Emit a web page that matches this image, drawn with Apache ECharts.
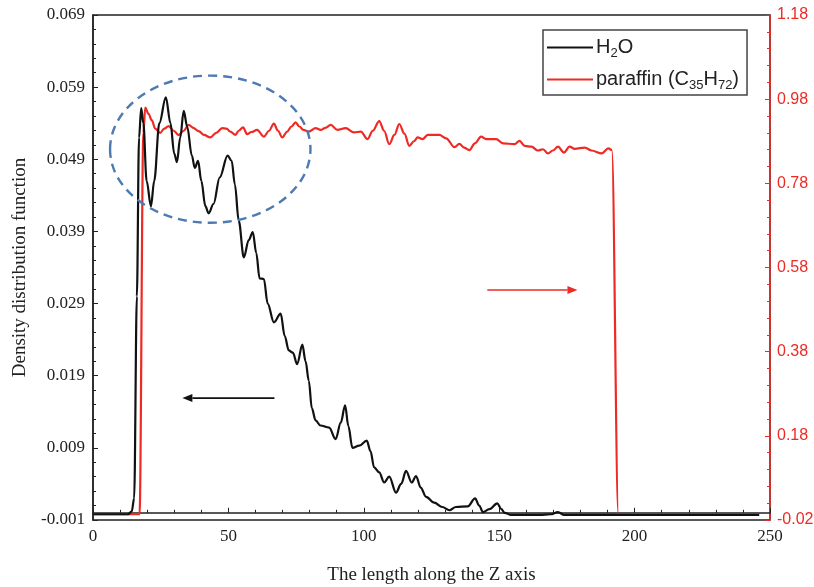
<!DOCTYPE html>
<html>
<head>
<meta charset="utf-8">
<script src="https://cdn.jsdelivr.net/npm/echarts@6/dist/echarts.min.js"></script>
<style>html,body{margin:0;padding:0;background:#fff}#c{width:814px;height:587px}</style>
</head>
<body>
<div id="c"></div>
<script>
// ---- data ----
const waterX = [0,13,14.3,15.2,16.2,17,17.8,18.6,19.8,21.4,22.6,24.5,26.9,28.6,30,31,32.2,33.5,34.8,36.5,37.6,38.8,40,41.5,42.7,44.5,46.8,49.7,51.2,52.4,53.8,55.7,57.5,59,60.3,61.5,63.1,64.5,66.8,69.3,70.8,72.3,73.8,75.4,77.3,78.5,79.7,80.8,82.2,84,87.2,89.6,91.5,93.1,94.3,95.8,98.3,101.1,102.5,103.8,105.7,107.5,109.4,111.9,113.8,115.6,117.7,119.3,121,123,126,129,131.6,134,138.4,141.1,142.6,144,146.4,149.3,150.8,152,154.4,165,169,171.7,174,246];
const waterY = [-0.0002,-0.0002,0.0002,0.002,0.03,0.052,0.0561,0.054,0.046,0.0425,0.046,0.054,0.0576,0.054,0.0498,0.0486,0.052,0.0557,0.0535,0.0495,0.0478,0.0488,0.046,0.0425,0.0415,0.0428,0.0465,0.0495,0.0488,0.0455,0.0405,0.0354,0.0378,0.0389,0.036,0.0325,0.0324,0.029,0.0264,0.0276,0.0245,0.0225,0.0222,0.0206,0.0233,0.021,0.0183,0.0145,0.0128,0.0121,0.0118,0.0102,0.0125,0.0149,0.012,0.009,0.0093,0.0100,0.0085,0.0063,0.0056,0.0042,0.005,0.0028,0.004,0.0058,0.0042,0.0051,0.0035,0.0022,0.0014,0.0008,0.00035,0.0008,0.0009,0.002,0.001,0.0001,0.0005,0.0013,0.0005,0,-0.0003,-0.0003,-0.0002,0.0001,-0.0003,-0.0003];
const paraffinX = [0,17.2,18.6,19.3,20.5,21.7,23,24.8,26.3,27.9,29.8,31.6,33.5,35.3,37,39,41,43.3,45.5,47.7,49.3,50.7,52.6,53.8,55.4,56.9,58.5,60.6,63.1,65,66.8,68.3,69.9,71.7,73.3,74.8,76.2,77.7,79.7,82.2,84.1,85.8,87.8,90.2,93.3,96.4,98.9,101.4,103.3,105.7,107.5,109.4,111.3,113.1,115,116.8,118.5,119.9,121.7,123.6,127.9,130.4,133.5,135.3,137,139,141,143.3,145.2,148.9,151.4,155.7,157.5,159.4,161.9,164.3,166.2,168,169.8,171.7,173.9,176,177.9,181.6,184.1,187.8,190.3,191.6,194,246];
const paraffinY = [-0.006,-0.006,0.9,0.96,0.945,0.93,0.91,0.9,0.91,0.916,0.905,0.895,0.905,0.919,0.912,0.904,0.895,0.889,0.9,0.911,0.91,0.903,0.895,0.905,0.913,0.897,0.902,0.907,0.891,0.905,0.922,0.905,0.889,0.903,0.915,0.925,0.915,0.907,0.903,0.911,0.907,0.912,0.919,0.907,0.911,0.901,0.903,0.885,0.905,0.928,0.905,0.873,0.895,0.921,0.898,0.869,0.88,0.889,0.885,0.895,0.895,0.887,0.866,0.874,0.865,0.859,0.875,0.891,0.885,0.885,0.875,0.873,0.881,0.869,0.867,0.858,0.861,0.851,0.858,0.867,0.853,0.867,0.862,0.865,0.858,0.851,0.863,0.859,-0.006,-0.006];
const seriesNames = ['H2O', 'paraffin (C35H72)'];
const xTicks = [0, 250, 50];          // min, max, interval
const leftTicks = [-0.001, 0.069, 0.01];
const rightTicks = [-0.02, 1.18, 0.2];
// annotation positions in data units: [x, yLeft]
const ellipseCenter = [43.3, 0.0504];
const ellipseRadius = [37, 0.0102];
const blackArrow = [[67, 0.0159], [33, 0.0159]];       // left axis
const redArrow = [[145.6, 0.5265], [178.9, 0.5265]];   // right axis

const RED = '#ee2a24';
const SERIF = '"Liberation Serif","DejaVu Serif",serif';
const SANS = '"Liberation Sans","DejaVu Sans",sans-serif';

const chart = echarts.init(document.getElementById('c'));
const zip = (a, b) => a.map((v, i) => [v, b[i]]);

chart.setOption({
  animation: false,
  backgroundColor: '#fff',
  grid: {left: 93, right: 44, top: 15, bottom: 67, show: true, borderColor: '#222', borderWidth: 1.5,
         containLabel: false, outerBoundsMode: 'none'},
  legend: {
    left: 543, top: 30, orient: 'vertical',
    data: seriesNames.map(n => ({name: n, icon: 'rect'})),
    itemWidth: 46, itemHeight: 2, itemGap: 7,
    borderColor: '#444', borderWidth: 1.5, padding: [5, 8, 3, 4],
    formatter: n => n === 'H2O' ? '{t|H}{s|2}{t|O}' : '{t|paraffin (C}{s|35}{t|H}{s|72}{t|)}',
    textStyle: {
      padding: [0, 0, 0, -2],
      rich: {
        t: {fontSize: 20, fontFamily: SANS, color: '#222', lineHeight: 25},
        s: {fontSize: 13, fontFamily: SANS, color: '#222', lineHeight: 25, padding: [12, 0, 0, 0]}
      }
    }
  },
  xAxis: {
    type: 'value', min: xTicks[0], max: xTicks[1], interval: xTicks[2],
    name: 'The length along the Z axis', nameLocation: 'middle', nameGap: 46,
    nameTextStyle: {fontFamily: SERIF, fontSize: 19, color: '#222'},
    axisLine: {show: true, lineStyle: {color: '#222', width: 1.5}},
    axisTick: {show: true, inside: true, length: 5, lineStyle: {color: '#222'}},
    minorTick: {show: true, splitNumber: 5, length: 3, lineStyle: {color: '#222'}},
    splitLine: {show: false},
    axisLabel: {fontFamily: SERIF, fontSize: 17, color: '#222', margin: 8}
  },
  yAxis: [{
    type: 'value', min: leftTicks[0], max: leftTicks[1], interval: leftTicks[2],
    name: 'Density distribution function', nameLocation: 'middle', nameGap: 63, nameRotate: 90,
    nameTextStyle: {fontFamily: SERIF, fontSize: 19, color: '#222'},
    axisLine: {show: true, lineStyle: {color: '#222', width: 1.5}},
    axisTick: {show: true, inside: true, length: 5, lineStyle: {color: '#222'}},
    minorTick: {show: true, splitNumber: 5, length: 3, lineStyle: {color: '#222'}},
    splitLine: {show: false},
    axisLabel: {fontFamily: SERIF, fontSize: 17, color: '#222', margin: 8, formatter: v => v.toFixed(3)}
  }, {
    type: 'value', position: 'right', min: rightTicks[0], max: rightTicks[1], interval: rightTicks[2],
    axisLine: {show: true, lineStyle: {color: RED, width: 1.5}},
    axisTick: {show: true, inside: true, length: 5, lineStyle: {color: RED}},
    minorTick: {show: true, splitNumber: 5, length: 3, lineStyle: {color: RED}},
    splitLine: {show: false},
    axisLabel: {fontFamily: SANS, fontSize: 16, color: RED, margin: 7, formatter: v => v.toFixed(2)}
  }],
  series: [{
    name: seriesNames[0], type: 'line', yAxisIndex: 0, data: zip(waterX, waterY),
    symbol: 'none', smooth: 0.35, smoothMonotone: 'x', z: 3,
    lineStyle: {color: '#111', width: 2.2}, itemStyle: {color: '#111'}
  }, {
    name: seriesNames[1], type: 'line', yAxisIndex: 1, data: zip(paraffinX, paraffinY),
    symbol: 'none', smooth: 0.35, smoothMonotone: 'x', z: 2,
    lineStyle: {color: RED, width: 2.2}, itemStyle: {color: RED}
  }]
});

function px(pt, yi) { return chart.convertToPixel({xAxisIndex: 0, yAxisIndex: yi}, pt); }
function arrow(a, yi, color) {
  const p0 = px(a[0], yi), p1 = px(a[1], yi);
  const dir = Math.sign(p1[0] - p0[0]);
  const tip = p1, base = p1[0] - dir * 10;
  return [{
    type: 'line', shape: {x1: p0[0], y1: p0[1], x2: base, y2: p1[1]},
    style: {stroke: color, lineWidth: 1.6}, z: 10
  }, {
    type: 'polygon', shape: {points: [[tip[0], tip[1]], [base, tip[1] - 4], [base, tip[1] + 4]]},
    style: {fill: color}, z: 10
  }];
}
const c = px(ellipseCenter, 0);
const e = px([ellipseCenter[0] + ellipseRadius[0], ellipseCenter[1] - ellipseRadius[1]], 0);
chart.setOption({
  graphic: [{
    type: 'ellipse', shape: {cx: c[0], cy: c[1], rx: e[0] - c[0], ry: e[1] - c[1]},
    style: {fill: null, stroke: '#4d7ab3', lineWidth: 2.4, lineDash: [9, 6]}, z: 10
  }].concat(arrow(blackArrow, 0, '#111'), arrow(redArrow, 1, RED))
});
</script>
</body>
</html>
